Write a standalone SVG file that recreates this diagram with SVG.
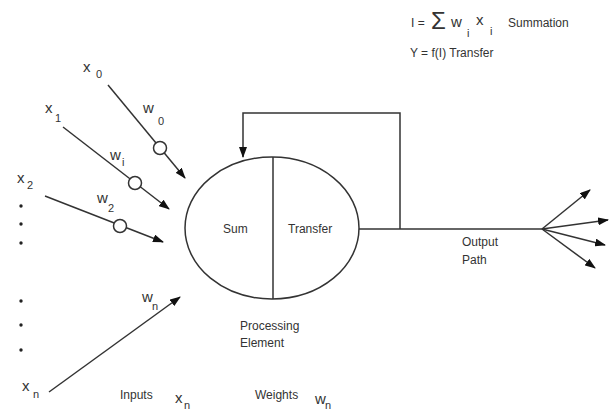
<svg xmlns="http://www.w3.org/2000/svg" width="611" height="414" viewBox="0 0 611 414">
<defs>
<marker id="ah" markerUnits="userSpaceOnUse" markerWidth="11" markerHeight="8" refX="10" refY="4" orient="auto">
<path d="M0,0 L11,4 L0,8 z" fill="#111"/>
</marker>
<style>
text{font-family:"Liberation Sans",Arial,sans-serif;fill:#333;font-size:12px}
.v{font-size:15px}
.s{font-size:11px}
.ln{stroke:#333;stroke-width:1.5;fill:none}
.w{fill:#fff;stroke:#333;stroke-width:1.5}
.dot{fill:#222}
</style>
</defs>
<rect width="611" height="414" fill="#fff"/>

<g id="formula">
<text x="411" y="27">I =</text>
<text x="431" y="29" style="font-size:24px">Σ</text>
<text class="v" x="451" y="27">w</text>
<text class="s" x="467" y="37">i</text>
<text class="v" x="476" y="25">x</text>
<text class="s" x="490" y="35">i</text>
<text x="508" y="27">Summation</text>
<text x="410" y="57">Y = f(I) Transfer</text>
</g>

<g id="connectors">
<line class="ln" x1="108" y1="85" x2="185" y2="178" marker-end="url(#ah)"/>
<line class="ln" x1="63" y1="127" x2="169" y2="209" marker-end="url(#ah)"/>
<line class="ln" x1="45" y1="196" x2="163" y2="242" marker-end="url(#ah)"/>
<line class="ln" x1="49" y1="392" x2="180" y2="297" marker-end="url(#ah)"/>
<polyline class="ln" points="359,229 542,229"/>
<polyline class="ln" points="400,229 400,113 243,113 243,157" marker-end="url(#ah)"/>
<line class="ln" x1="542" y1="229" x2="590" y2="190" marker-end="url(#ah)"/>
<line class="ln" x1="542" y1="229" x2="608" y2="220" marker-end="url(#ah)"/>
<line class="ln" x1="542" y1="229" x2="605" y2="245" marker-end="url(#ah)"/>
<line class="ln" x1="542" y1="229" x2="595" y2="268" marker-end="url(#ah)"/>
</g>

<g id="weights">
<circle class="w" cx="160" cy="148" r="6.5"/>
<circle class="w" cx="135" cy="183" r="6.5"/>
<circle class="w" cx="120" cy="226" r="6.5"/>
</g>

<g id="input-labels">
<text class="v" x="83" y="72">x</text>
<text class="s" x="96" y="78">0</text>
<text class="v" x="143" y="113">w</text>
<text class="s" x="158" y="125">0</text>
<text class="v" x="45" y="113">x</text>
<text class="s" x="55" y="122">1</text>
<text class="v" x="110" y="160">w</text>
<text class="s" x="122" y="166">i</text>
<text class="v" x="17" y="183">x</text>
<text class="s" x="27" y="189">2</text>
<text class="v" x="97" y="203">w</text>
<text class="s" x="108" y="212">2</text>
<text class="v" x="142" y="302">w</text>
<text class="s" x="152" y="310">n</text>
<text class="v" x="22" y="391">x</text>
<text class="s" x="33" y="398">n</text>
<circle class="dot" cx="21" cy="206" r="1.7"/>
<circle class="dot" cx="21" cy="224" r="1.7"/>
<circle class="dot" cx="21" cy="243" r="1.7"/>
<circle class="dot" cx="21" cy="301" r="1.7"/>
<circle class="dot" cx="21" cy="325" r="1.7"/>
<circle class="dot" cx="21" cy="350" r="1.7"/>
</g>

<g id="processing-element">
<ellipse class="ln" cx="272" cy="228" rx="87" ry="71"/>
<line class="ln" x1="273" y1="157" x2="273" y2="299"/>
<text x="223" y="233">Sum</text>
<text x="288" y="233">Transfer</text>
<text x="240" y="330">Processing</text>
<text x="240" y="347">Element</text>
</g>

<g id="output-label">
<text x="462" y="246">Output</text>
<text x="462" y="264">Path</text>
</g>

<g id="legend">
<text x="120" y="399">Inputs</text>
<text class="v" x="175" y="403">x</text>
<text class="s" x="184" y="409">n</text>
<text x="255" y="399">Weights</text>
<text class="v" x="315" y="404">w</text>
<text class="s" x="325" y="409">n</text>
</g>
</svg>
